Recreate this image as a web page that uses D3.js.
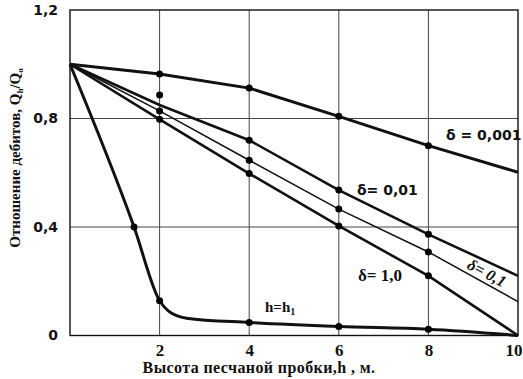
<!DOCTYPE html>
<html>
<head>
<meta charset="utf-8">
<script src="https://cdn.jsdelivr.net/npm/d3@7"></script>
<style>
  body { margin: 0; background: #fff; }
</style>
</head>
<body>
<div id="c1"></div>
<script>
// Variables
var w = 523, h = 379;
var xTicks = [2, 4, 6, 8, 10];
var yTicks = [0, 0.4, 0.8, 1.2];
var yTickLabels = ["0", "0,4", "0,8", "1,2"];

// delta lines, values
var hVals = [0, 2, 4, 6, 8, 10];
var d0001 = [1.0, 0.964, 0.912, 0.808, 0.700, 0.602];
var d001 = [1.0, 0.85, 0.72, 0.536, 0.373, 0.22];
var d01 = [1.0, 0.828, 0.646, 0.466, 0.308, 0.125];
var d1 = [1.0, 0.797, 0.597, 0.404, 0.22, 0.0];
// which h values carry a marker on each line
var d0001Marks = [2, 4, 6, 8];
var d001Marks = [4, 6, 8];
var d01Marks = [2, 4, 6, 8];
var d1Marks = [2, 4, 6, 8];
// marker that sits off the 0,01 line
var extraMarkH = [2];
var extraMarkV = [0.887];

// h = h1 curve
var h1H = [0, 1.43, 2.0, 2.2, 2.6, 4, 6, 8, 10];
var h1V = [1.0, 0.40, 0.128, 0.09, 0.064, 0.048, 0.033, 0.023, 0.0];
var h1MarkIdx = [1, 2, 5, 6, 7];

var x = d3.scaleLinear().domain([0, 10]).range([70, 518]);
var y = d3.scaleLinear().domain([0, 1.2]).range([335.5, 10]);

var svg = d3.select("#c1").append("svg")
    .attr("width", w)
    .attr("height", h);

// grid
svg.append("g").selectAll("line.v")
    .data([2, 4, 6, 8])
    .enter().append("line")
    .attr("x1", function (d) { return x(d); })
    .attr("x2", function (d) { return x(d); })
    .attr("y1", y(1.2)).attr("y2", y(0))
    .attr("stroke", "#444").attr("stroke-width", 1);

svg.append("g").selectAll("line.h")
    .data([0.4, 0.8])
    .enter().append("line")
    .attr("y1", function (d) { return y(d); })
    .attr("y2", function (d) { return y(d); })
    .attr("x1", x(0)).attr("x2", x(10))
    .attr("stroke", "#444").attr("stroke-width", 1);

// frame
svg.append("rect")
    .attr("x", x(0)).attr("y", y(1.2))
    .attr("width", x(10) - x(0)).attr("height", y(0) - y(1.2))
    .attr("fill", "none").attr("stroke", "#111").attr("stroke-width", 1.4);

// axes (labels only)
var xAxis = d3.axisBottom(x).tickValues(xTicks).tickSize(0).tickPadding(8);
var gx = svg.append("g").attr("transform", "translate(0," + y(0) + ")").call(xAxis);
gx.select(".domain").remove();
gx.selectAll("text")
    .attr("font-family", "Liberation Serif").attr("font-weight", "bold")
    .attr("font-size", 17).attr("fill", "#111");
// last label sits on the right edge
gx.selectAll(".tick").filter(function (d) { return d === 10; })
    .select("text").attr("text-anchor", "end").attr("x", 4);

var yAxis = d3.axisLeft(y).tickValues(yTicks).tickSize(0).tickPadding(8)
    .tickFormat(function (d, i) { return yTickLabels[i]; });
var gy = svg.append("g").attr("transform", "translate(" + (x(0) - 4) + ",0)").call(yAxis);
gy.select(".domain").remove();
gy.selectAll("text")
    .attr("font-family", "DejaVu Sans").attr("font-weight", "bold")
    .attr("font-size", 14).attr("fill", "#111");

// lines
var line = d3.line()
    .x(function (d) { return x(d[0]); })
    .y(function (d) { return y(d[1]); });

var series = [
    { v: d0001, m: d0001Marks, sw: 3 },
    { v: d001, m: d001Marks, sw: 2.6 },
    { v: d01, m: d01Marks, sw: 1.5 },
    { v: d1, m: d1Marks, sw: 2.6 }
];

series.forEach(function (s) {
    var pts = hVals.map(function (hh, i) { return [hh, s.v[i]]; });
    svg.append("path")
        .attr("d", line(pts))
        .attr("fill", "none").attr("stroke", "#111")
        .attr("stroke-width", s.sw);
    svg.append("g").selectAll("circle")
        .data(pts.filter(function (p) { return s.m.indexOf(p[0]) >= 0; }))
        .enter().append("circle")
        .attr("cx", function (d) { return x(d[0]); })
        .attr("cy", function (d) { return y(d[1]); })
        .attr("r", 3.5).attr("fill", "#000");
});

// off-line marker
svg.append("g").selectAll("circle")
    .data(extraMarkH.map(function (hh, i) { return [hh, extraMarkV[i]]; }))
    .enter().append("circle")
    .attr("cx", function (d) { return x(d[0]); })
    .attr("cy", function (d) { return y(d[1]); })
    .attr("r", 3.5).attr("fill", "#000");

// h = h1
var h1Pts = h1H.map(function (hh, i) { return [hh, h1V[i]]; });
svg.append("path")
    .attr("d", line.curve(d3.curveMonotoneX)(h1Pts))
    .attr("fill", "none").attr("stroke", "#111").attr("stroke-width", 3);
svg.append("g").selectAll("circle")
    .data(h1MarkIdx.map(function (i) { return h1Pts[i]; }))
    .enter().append("circle")
    .attr("cx", function (d) { return x(d[0]); })
    .attr("cy", function (d) { return y(d[1]); })
    .attr("r", 3.5).attr("fill", "#000");

// labels
function label(txt, px, py, opts) {
    var t = svg.append("text")
        .attr("x", px).attr("y", py)
        .attr("font-family", opts.family || "DejaVu Sans")
        .attr("font-weight", "bold")
        .attr("font-size", opts.size || 14)
        .attr("fill", "#111")
        .text(txt);
    if (opts.italic) t.attr("font-style", "italic");
    if (opts.rotate) t.attr("transform", "rotate(" + opts.rotate + "," + px + "," + py + ")");
    return t;
}

label("\u03b4 = 0,001", 446, 140, { size: 14 });
label("\u03b4= 0,01", 357, 195, { size: 14 });
label("\u03b4= 1,0", 358, 281, { family: "Liberation Serif", size: 17 });
label("\u03b4= 0,1", 466, 268, { family: "Liberation Serif", size: 16, italic: true, rotate: 28 });

var hl = label("h=h", 265, 312, { family: "Liberation Serif", size: 15 });
hl.append("tspan").attr("dy", 3).attr("font-size", 10).text("1");

// axis titles
svg.append("text")
    .attr("x", 259).attr("y", 373)
    .attr("text-anchor", "middle")
    .attr("font-family", "Liberation Serif").attr("font-weight", "bold")
    .attr("font-size", 16).attr("letter-spacing", 0.4).attr("fill", "#111")
    .text("Высота песчаной пробки,h , м.");

var yt = svg.append("text")
    .attr("transform", "translate(20,158) rotate(-90)")
    .attr("text-anchor", "middle")
    .attr("font-family", "Liberation Serif").attr("font-weight", "bold")
    .attr("font-size", 15).attr("fill", "#111")
    .text("Отношение дебитов, Q");
yt.append("tspan").attr("dy", 3).attr("font-size", 9).text("h");
yt.append("tspan").attr("dy", -3).text("/Q");
yt.append("tspan").attr("dy", 3).attr("font-size", 9).text("o");
</script>
</body>
</html>
